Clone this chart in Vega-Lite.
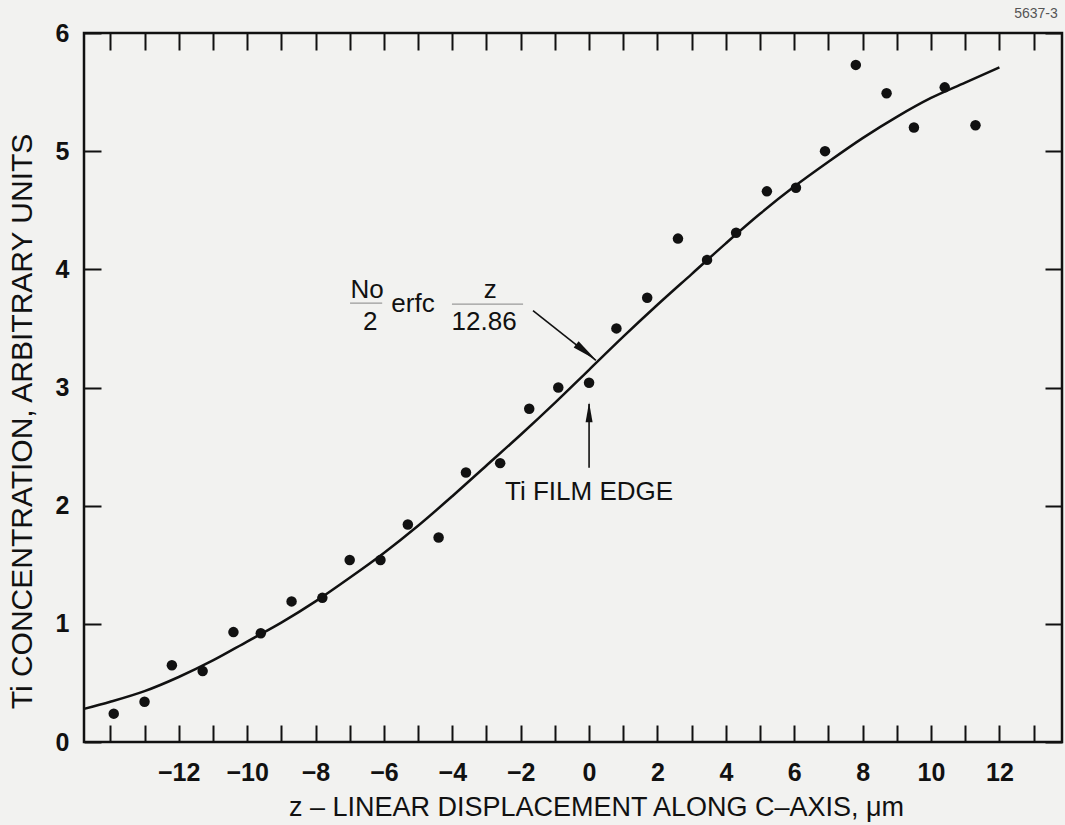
{
  "$schema": "https://vega.github.io/schema/vega-lite/v6.json",
  "width": 978,
  "height": 709,
  "autosize": {"type": "none"},
  "padding": {"left": 84, "top": 33, "right": 3, "bottom": 83},
  "background": "#f2f2f0",
  "config": {
    "view": {"stroke": "#111111", "strokeWidth": 2.5},
    "axis": {
      "domain": false, "grid": false, "tickColor": "#111111", "tickWidth": 2, "tickSize": -17,
      "labelFont": "Liberation Sans", "labelFontWeight": "bold", "labelFontSize": 25, "labelColor": "#111111",
      "labelFlush": false, "labelOverlap": false,
      "titleFont": "Liberation Sans", "titleFontWeight": "normal", "titleColor": "#111111"
    }
  },
  "datasets": {
    "points": [
      {"z": -13.9, "c": 0.24}, {"z": -13.0, "c": 0.34}, {"z": -12.2, "c": 0.65}, {"z": -11.3, "c": 0.60},
      {"z": -10.4, "c": 0.93}, {"z": -9.6, "c": 0.92}, {"z": -8.7, "c": 1.19}, {"z": -7.8, "c": 1.22},
      {"z": -7.0, "c": 1.54}, {"z": -6.1, "c": 1.54}, {"z": -5.3, "c": 1.84}, {"z": -4.4, "c": 1.73},
      {"z": -3.6, "c": 2.28}, {"z": -2.6, "c": 2.36}, {"z": -1.75, "c": 2.82}, {"z": -0.9, "c": 3.0},
      {"z": 0.0, "c": 3.04}, {"z": 0.8, "c": 3.5}, {"z": 1.7, "c": 3.76}, {"z": 2.6, "c": 4.26},
      {"z": 3.45, "c": 4.08}, {"z": 4.3, "c": 4.31}, {"z": 5.2, "c": 4.66}, {"z": 6.05, "c": 4.69},
      {"z": 6.9, "c": 5.0}, {"z": 7.8, "c": 5.73}, {"z": 8.7, "c": 5.49}, {"z": 9.5, "c": 5.2},
      {"z": 10.4, "c": 5.54}, {"z": 11.3, "c": 5.22}
    ],
    "curve": [
      {"z": -14.77, "c": 0.28}, {"z": -14, "c": 0.34}, {"z": -13, "c": 0.43}, {"z": -12, "c": 0.55},
      {"z": -11, "c": 0.69}, {"z": -10, "c": 0.85}, {"z": -9, "c": 1.01}, {"z": -8, "c": 1.19},
      {"z": -7, "c": 1.39}, {"z": -6, "c": 1.60}, {"z": -5, "c": 1.83}, {"z": -4, "c": 2.08},
      {"z": -3, "c": 2.34}, {"z": -2, "c": 2.60}, {"z": -1, "c": 2.87}, {"z": 0, "c": 3.15},
      {"z": 1, "c": 3.43}, {"z": 2, "c": 3.70}, {"z": 3, "c": 3.96}, {"z": 4, "c": 4.22},
      {"z": 5, "c": 4.47}, {"z": 6, "c": 4.70}, {"z": 7, "c": 4.91}, {"z": 8, "c": 5.11},
      {"z": 9, "c": 5.29}, {"z": 10, "c": 5.45}, {"z": 11, "c": 5.58}, {"z": 12, "c": 5.71}
    ],
    "labels": [
      {"label": "No", "z": -6.49, "c": 3.756},
      {"label": "2", "z": -6.40, "c": 3.486},
      {"label": "erfc", "z": -5.15, "c": 3.638},
      {"label": "z", "z": -2.89, "c": 3.756},
      {"label": "12.86", "z": -3.07, "c": 3.486},
      {"label": "Ti FILM EDGE", "z": 0.0, "c": 2.047}
    ],
    "bars": [
      {"z1": -6.99, "z2": -6.05, "c": 3.714},
      {"z1": -4.01, "z2": -1.93, "c": 3.706}
    ],
    "arrows": [
      {"z1": -1.64, "c1": 3.65, "z2": 0.2, "c2": 3.23},
      {"z1": 0.0, "c1": 2.32, "z2": 0.0, "c2": 2.86}
    ],
    "tag": [
      {"label": "5637-3", "z": 13.07, "c": 6.16}
    ]
  },
  "resolve": {"axis": {"x": "independent", "y": "independent"}},
  "layer": [
    {
      "data": {"name": "curve"},
      "mark": {"type": "line", "color": "#111111", "strokeWidth": 2.5, "interpolate": "monotone"},
      "encoding": {
        "x": {"field": "z", "type": "quantitative",
              "scale": {"domain": [-14.77, 13.83], "nice": false, "zero": false},
              "axis": {"orient": "bottom",
                       "values": [-14,-13,-12,-11,-10,-9,-8,-7,-6,-5,-4,-3,-2,-1,0,1,2,3,4,5,6,7,8,9,10,11,12,13],
                       "labelExpr": "abs(datum.value) <= 12 && datum.value % 2 == 0 ? datum.label : ''",
                       "labelPadding": 35,
                       "title": "z – LINEAR DISPLACEMENT ALONG C–AXIS, μm",
                       "titleFontSize": 27, "titleX": 512, "titleY": 73,
                       "titleAlign": "center", "titleBaseline": "alphabetic"}},
        "y": {"field": "c", "type": "quantitative",
              "scale": {"domain": [0, 6], "nice": false, "zero": false},
              "axis": {"orient": "left", "values": [0,1,2,3,4,5,6],
                       "labelPadding": 32,
                       "title": "Ti CONCENTRATION, ARBITRARY UNITS",
                       "titleFontSize": 30, "titleX": -62, "titleY": 388,
                       "titleAngle": -90, "titleAlign": "center", "titleBaseline": "middle"}}
      }
    },
    {
      "data": {"name": "points"},
      "mark": {"type": "point", "shape": "circle", "filled": true, "color": "#111111", "size": 110, "opacity": 1},
      "encoding": {
        "x": {"field": "z", "type": "quantitative",
              "scale": {"domain": [-14.77, 13.83], "nice": false, "zero": false},
              "axis": {"orient": "top",
                       "values": [-14,-13,-12,-11,-10,-9,-8,-7,-6,-5,-4,-3,-2,-1,0,1,2,3,4,5,6,7,8,9,10,11,12,13],
                       "labels": false, "title": null}},
        "y": {"field": "c", "type": "quantitative",
              "scale": {"domain": [0, 6], "nice": false, "zero": false},
              "axis": {"orient": "right", "values": [0,1,2,3,4,5,6], "labels": false, "title": null}}
      }
    },
    {
      "data": {"name": "labels"},
      "mark": {"type": "text", "font": "Liberation Sans", "fontSize": 26, "color": "#111111", "align": "center", "baseline": "alphabetic"},
      "encoding": {
        "x": {"field": "z", "type": "quantitative", "scale": {"domain": [-14.77, 13.83], "nice": false, "zero": false}, "axis": null},
        "y": {"field": "c", "type": "quantitative", "scale": {"domain": [0, 6], "nice": false, "zero": false}, "axis": null},
        "text": {"field": "label"}
      }
    },
    {
      "data": {"name": "tag"},
      "mark": {"type": "text", "font": "Liberation Sans", "fontSize": 14, "color": "#555555", "align": "center", "baseline": "middle"},
      "encoding": {
        "x": {"field": "z", "type": "quantitative", "scale": {"domain": [-14.77, 13.83], "nice": false, "zero": false}, "axis": null},
        "y": {"field": "c", "type": "quantitative", "scale": {"domain": [0, 6], "nice": false, "zero": false}, "axis": null},
        "text": {"field": "label"}
      }
    },
    {
      "data": {"name": "bars"},
      "mark": {"type": "rule", "color": "#9a9a9a", "strokeWidth": 1.2},
      "encoding": {
        "x": {"field": "z1", "type": "quantitative", "scale": {"domain": [-14.77, 13.83], "nice": false, "zero": false}, "axis": null},
        "x2": {"field": "z2"},
        "y": {"field": "c", "type": "quantitative", "scale": {"domain": [0, 6], "nice": false, "zero": false}, "axis": null}
      }
    },
    {
      "data": {"name": "arrows"},
      "mark": {"type": "rule", "color": "#111111", "strokeWidth": 1.6},
      "encoding": {
        "x": {"field": "z1", "type": "quantitative", "scale": {"domain": [-14.77, 13.83], "nice": false, "zero": false}, "axis": null},
        "x2": {"field": "z2"},
        "y": {"field": "c1", "type": "quantitative", "scale": {"domain": [0, 6], "nice": false, "zero": false}, "axis": null},
        "y2": {"field": "c2"}
      }
    },
    {
      "data": {"values": [{"z": -0.09, "c": 3.30}]},
      "mark": {"type": "point", "shape": "M0,-1L0.32,1L-0.32,1Z", "filled": true, "color": "#111111", "opacity": 1, "size": 625, "angle": 128},
      "encoding": {
        "x": {"field": "z", "type": "quantitative", "scale": {"domain": [-14.77, 13.83], "nice": false, "zero": false}, "axis": null},
        "y": {"field": "c", "type": "quantitative", "scale": {"domain": [0, 6], "nice": false, "zero": false}, "axis": null}
      }
    },
    {
      "data": {"values": [{"z": 0.0, "c": 2.79}]},
      "mark": {"type": "point", "shape": "M0,-1L0.35,1L-0.35,1Z", "filled": true, "color": "#111111", "opacity": 1, "size": 400, "angle": 0},
      "encoding": {
        "x": {"field": "z", "type": "quantitative", "scale": {"domain": [-14.77, 13.83], "nice": false, "zero": false}, "axis": null},
        "y": {"field": "c", "type": "quantitative", "scale": {"domain": [0, 6], "nice": false, "zero": false}, "axis": null}
      }
    }
  ]
}
